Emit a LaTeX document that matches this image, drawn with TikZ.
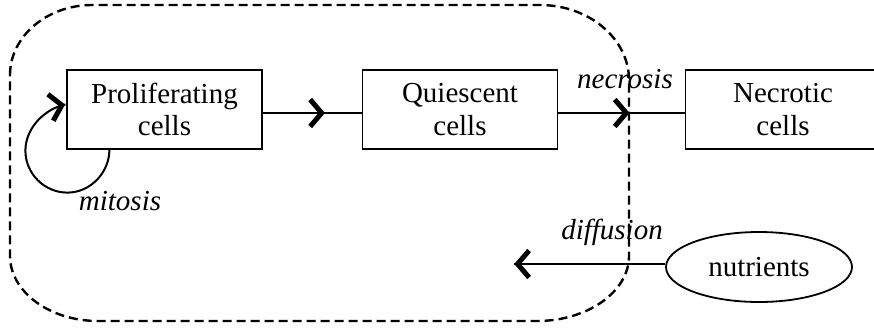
\documentclass[tikz,border=0pt]{standalone}
\usepackage{fontspec}
\setmainfont{Liberation Serif}
\usetikzlibrary{calc,shapes.geometric,decorations.markings}

% open chevron used as arrowhead; its tip sits at the origin of the mark
\newcommand\chevronmark{\draw[line width=5pt, line join=miter, line cap=butt, solid] (-15,13.5) -- (-3.5,0) -- (-15,-13.5);}

\tikzset{
  txt/.style={font=\fontsize{29}{32.5}\selectfont},
  cellbox/.style={txt, draw, line width=1.2pt, minimum width=195pt, minimum height=79pt, align=center, inner sep=0pt},
  pool/.style={txt, draw, ellipse, line width=1.8pt, minimum width=186pt, minimum height=70pt, inner sep=0pt},
  headat/.style={line width=2pt, postaction={decorate},
    decoration={markings, mark=at position #1 with {\chevronmark}}},
  rate/.style={font=\fontsize{29}{32.5}\selectfont\itshape, inner sep=0pt, anchor=base},
  zone/.style={line width=2.4pt, dash pattern=on 9pt off 5pt},
}

\begin{document}
\begin{tikzpicture}[x=1pt,y=-1pt]
\useasboundingbox (0,0) rectangle (874,327);
\clip (0,0) rectangle (874,327);

% compartments
\node[cellbox] (prol) at (164.5,109.5) {Proliferating\\cells};
\node[cellbox] (quie) at (460,109.5) {Quiescent\\cells};
\node[cellbox] (necr) at (783,109.5) {Necrotic\\cells};
\node[pool] (nutr) at (759,267) {nutrients};

% transitions with arrowheads part way along
\draw[headat=0.63] ($(prol.east)+(0,3.5)$) coordinate (pq0) -- (pq0 -| quie.west);
\draw[headat=0.565] ($(quie.east)+(0,3.5)$) coordinate (qn0) -- (qn0 -| necr.west);

% mitosis self-loop
\coordinate (ls) at ($(prol.south west)+(43,0)$);
\coordinate (le) at ($(prol.west)+(-1,-5)$);
\draw[headat=0.9995] (ls) .. controls ($(ls)+(0,23)$) and ($(ls)+(-19,43)$) .. ($(ls)+(-42,43)$)
  .. controls ($(ls)+(-65,43)$) and ($(ls)+(-84,24)$) .. ($(ls)+(-84,1)$)
  .. controls ($(ls)+(-84,-22)$) and ($(le)+(-20,4)$) .. (le);

% nutrient supply
\coordinate (dend) at (514,264);
\draw[headat=0.9995] (nutr.west |- dend) -- (dend);

% labels
\node[rate] (lmit) at (120,210) {mitosis};
\node[rate] (lnec) at (625,88) {necrosis};
\node[rate] (ldif) at (612,239) {diffusion};

% tumour region boundary
\draw[zone] (10,75) .. controls (10,36.5) and (46.9,5) .. (92,5)
  -- (540,5) .. controls (589,5) and (629,38.75) .. (629,80)
  -- (629,256) .. controls (629,291.75) and (587.6,321) .. (537,321)
  -- (98,321) .. controls (49.6,321) and (10,291.75) .. (10,256)
  -- cycle;
\end{tikzpicture}
\end{document}
